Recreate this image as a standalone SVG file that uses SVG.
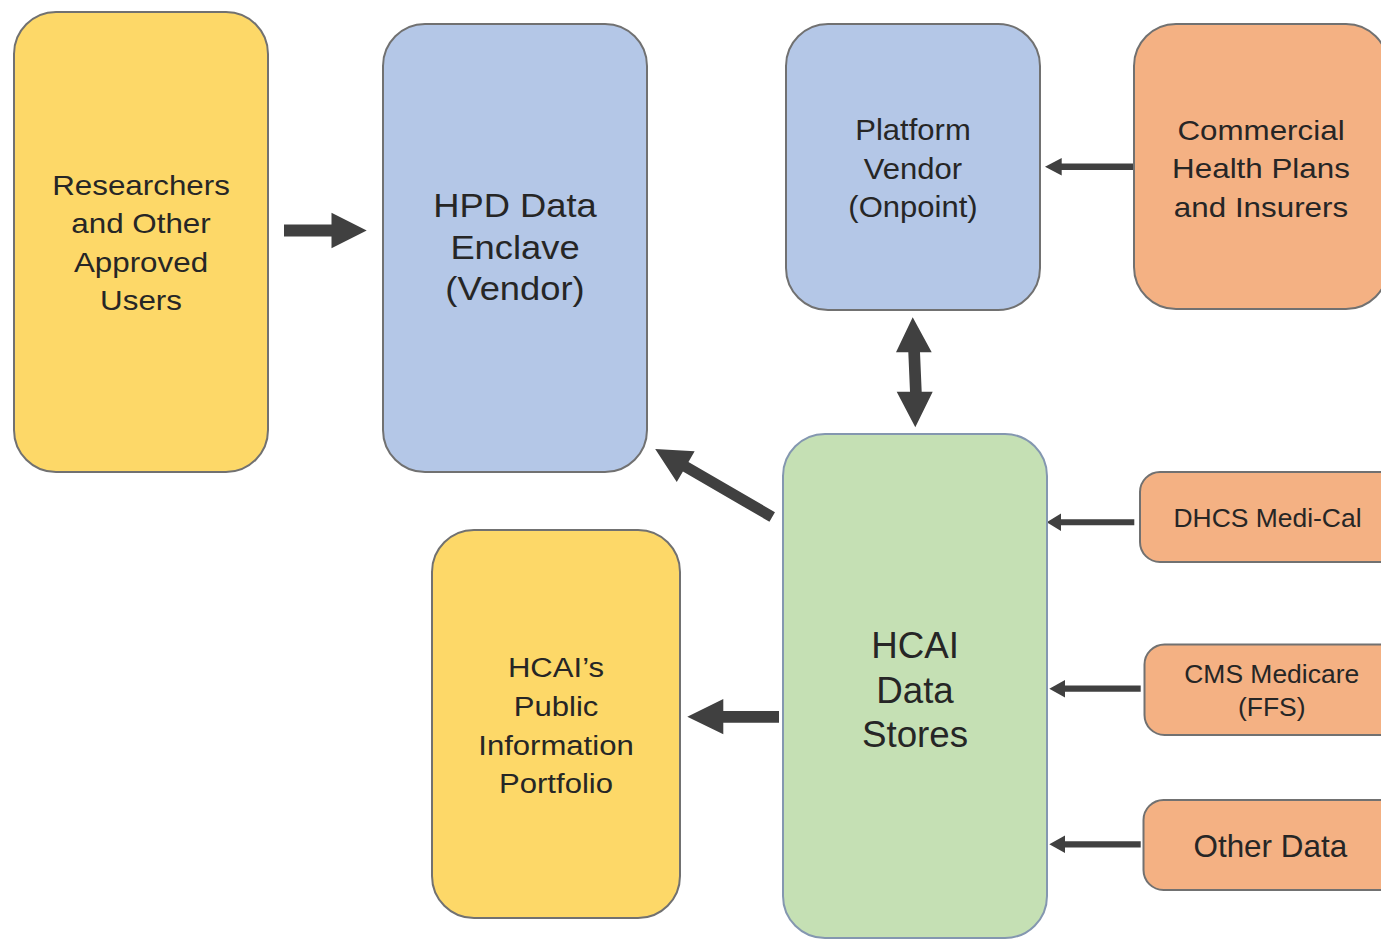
<svg xmlns="http://www.w3.org/2000/svg" width="1381" height="940" viewBox="0 0 1381 940">
<style>
.box{stroke:#717171;stroke-width:2}
.yellow{fill:#FDD868}
.blue{fill:#B4C7E7}
.orange{fill:#F4B183}
.green{fill:#C5E0B4;stroke:#8497B0}
.t{font-family:"Liberation Sans",Arial,sans-serif;fill:#262626;text-anchor:middle}
.arrow{fill:#404040}
</style>
<rect width="1381" height="940" fill="#FFFFFF"/>
<g id="connectors">
<polygon class="arrow" points="284,224.5 331.5,224.5 331.5,212.7 366.7,230.5 331.5,248.3 331.5,236.5 284,236.5"/>
<polygon class="arrow" points="779,711 723.3,711 723.3,699 687.3,716.8 723.3,734.3 723.3,722.7 779,722.7"/>
<polygon class="arrow" points="1134.3,163.5 1061.7,163.5 1061.7,158 1045,166.7 1061.7,175.4 1061.7,169.9 1134.3,169.9"/>
<polygon class="arrow" points="1134.3,519.3 1061,519.3 1061,513.6 1046.7,522.3 1061,531 1061,525.3 1134.3,525.3"/>
<polygon class="arrow" points="1140.7,685.6 1065,685.6 1065,680 1049.3,688.7 1065,697.4 1065,691.8 1140.7,691.8"/>
<polygon class="arrow" points="1140.7,841.2 1065,841.2 1065,835.6 1049.3,844.3 1065,853 1065,847.4 1140.7,847.4"/>
<polygon class="arrow" points="912.7,317.3 931.7,352.3 920,352.3 921.7,391.7 932.7,391.7 915.3,427.3 896.7,391.7 910,391.7 908.3,352.3 896,352.3"/>
<polygon class="arrow" points="774.97,512.24 688.47,461.94 694.65,451.3 655.2,448.9 676.75,482.1 682.93,471.46 769.43,521.76"/>
</g>
<g id="researchers">
<rect class="box yellow" x="14" y="12" width="254" height="460" rx="42" ry="42"/>
<g transform="translate(141 0) scale(1.12 1)">
<text class="t" font-size="28"><tspan x="0" y="195">Researchers</tspan><tspan x="0" y="233.3">and Other</tspan><tspan x="0" y="271.7">Approved</tspan><tspan x="0" y="310">Users</tspan></text>
</g>
</g>
<g id="hpd-enclave">
<rect class="box blue" x="383" y="24" width="264" height="448" rx="42" ry="42"/>
<g transform="translate(515 0) scale(1.085 1)">
<text class="t" font-size="33.5"><tspan x="0" y="216.7">HPD Data</tspan><tspan x="0" y="259.5">Enclave</tspan><tspan x="0" y="300">(Vendor)</tspan></text>
</g>
</g>
<g id="platform-vendor">
<rect class="box blue" x="786" y="24" width="254" height="286" rx="42" ry="42"/>
<g transform="translate(913 0) scale(1.035 1)">
<text class="t" font-size="30"><tspan x="0" y="140.5">Platform</tspan><tspan x="0" y="179">Vendor</tspan><tspan x="0" y="217.5">(Onpoint)</tspan></text>
</g>
</g>
<g id="commercial">
<rect class="box orange" x="1134" y="24" width="254" height="285" rx="42" ry="42"/>
<g transform="translate(1261 0) scale(1.12 1)">
<text class="t" font-size="28"><tspan x="0" y="140">Commercial</tspan><tspan x="0" y="178.3">Health Plans</tspan><tspan x="0" y="216.7">and Insurers</tspan></text>
</g>
</g>
<g id="hcai-data-stores">
<rect class="box green" x="783" y="434" width="264" height="504" rx="42" ry="42"/>
<g transform="translate(915 0) scale(1.02 1)">
<text class="t" font-size="36"><tspan x="0" y="658.3">HCAI</tspan><tspan x="0" y="702.7">Data</tspan><tspan x="0" y="746.7">Stores</tspan></text>
</g>
</g>
<g id="public-portfolio">
<rect class="box yellow" x="432" y="530" width="248" height="388" rx="42" ry="42"/>
<g transform="translate(556 0) scale(1.11 1)">
<text class="t" font-size="28"><tspan x="0" y="677">HCAI’s</tspan><tspan x="0" y="716.5">Public</tspan><tspan x="0" y="755.5">Information</tspan><tspan x="0" y="793.5">Portfolio</tspan></text>
</g>
</g>
<g id="dhcs">
<rect class="box orange" x="1140" y="472" width="260" height="90" rx="20" ry="20"/>
<g transform="translate(1267.5 0) scale(1.017 1)">
<text class="t" font-size="26"><tspan x="0" y="526.7">DHCS Medi-Cal</tspan></text>
</g>
</g>
<g id="cms">
<rect class="box orange" x="1144.5" y="644.5" width="260" height="90.5" rx="20" ry="20"/>
<g transform="translate(1271.7 0) scale(1.018 1)">
<text class="t" font-size="26"><tspan x="0" y="682.7">CMS Medicare</tspan><tspan x="0" y="716">(FFS)</tspan></text>
</g>
</g>
<g id="other-data">
<rect class="box orange" x="1143.5" y="800" width="260" height="90" rx="20" ry="20"/>
<g transform="translate(1270.3 0) scale(1.03 1)">
<text class="t" font-size="30.5"><tspan x="0" y="856.7">Other Data</tspan></text>
</g>
</g>
</svg>
